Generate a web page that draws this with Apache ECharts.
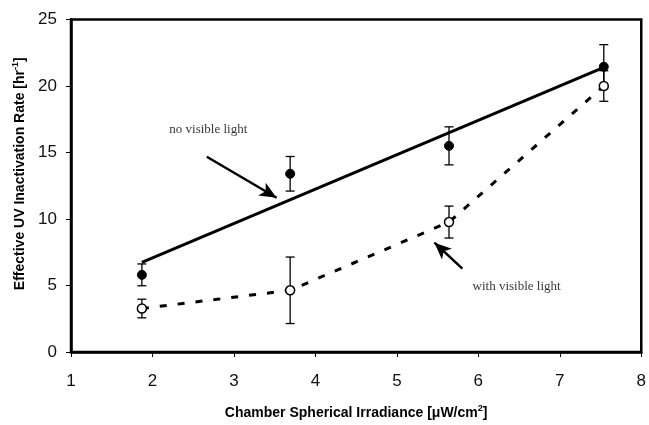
<!DOCTYPE html>
<html>
<head>
<meta charset="utf-8">
<script src="https://cdn.jsdelivr.net/npm/echarts@6/dist/echarts.min.js"></script>
<style>
  html, body { margin: 0; padding: 0; background: #fff; }
  #main { width: 649px; height: 425px; }
</style>
</head>
<body>
<div id="main"></div>
<script>
// irradiance (x) for the four chamber settings
var irradiance = [1.87, 3.69, 5.64, 7.54];
// no visible light: rate and error (+/-)
var darkRate = [5.8, 13.4, 15.5, 21.45];
var darkErr = [0.82, 1.3, 1.43, 1.66];
// with visible light: rate and error (+/-)
var lightRate = [3.27, 4.64, 9.77, 20.0];
var lightErr = [0.7, 2.5, 1.2, 1.15];
// linear fit for the dark data
var fitX = [1.87, 7.54];
var fitY = [6.74, 21.4];
// tick labels
var xTicks = [1, 2, 3, 4, 5, 6, 7, 8];
var yTicks = [0, 5, 10, 15, 20, 25];
// annotations (data coords)
var noteText = ['no visible light', 'with visible light'];
var notePos = [[2.685, 16.75], [6.47, 4.95]];
var arrowFrom = [[2.667, 14.68], [5.804, 6.27]];
var arrowTo = [[3.524, 11.6], [5.461, 8.22]];

function pairs(xs, ys) {
  return xs.map(function (x, i) { return [x, ys[i]]; });
}

function errData(xs, ys, es) {
  return xs.map(function (x, i) { return [x, ys[i] - es[i], ys[i] + es[i]]; });
}

function errorBars(api) {
  var lo = api.coord([api.value(0), api.value(1)]);
  var hi = api.coord([api.value(0), api.value(2)]);
  var w = 4.5;
  var st = { stroke: '#000', lineWidth: 1.3 };
  return {
    type: 'group',
    children: [
      { type: 'line', shape: { x1: lo[0], y1: lo[1], x2: hi[0], y2: hi[1] }, style: st },
      { type: 'line', shape: { x1: lo[0] - w, y1: lo[1], x2: lo[0] + w, y2: lo[1] }, style: st },
      { type: 'line', shape: { x1: hi[0] - w, y1: hi[1], x2: hi[0] + w, y2: hi[1] }, style: st }
    ]
  };
}

var titleRich = {
  n: { fontSize: 14, fontWeight: 'bold', fontFamily: 'Liberation Sans, Arial', color: '#000', lineHeight: 18 },
  sup: { fontSize: 9, fontWeight: 'bold', fontFamily: 'Liberation Sans, Arial', color: '#000', verticalAlign: 'top', lineHeight: 12 }
};

var chart = echarts.init(document.getElementById('main'));

var arrows = arrowFrom.map(function (p, i) {
  return [{ coord: p }, { coord: arrowTo[i] }];
});

var option = {
  animation: false,
  backgroundColor: '#fff',
  grid: {
    left: 71, right: 7, top: 19.5, bottom: 72.5,
    show: true, borderColor: '#000', borderWidth: 2.5
  },
  xAxis: {
    type: 'value', min: xTicks[0], max: xTicks[xTicks.length - 1], interval: 1,
    axisLine: { show: true, lineStyle: { color: '#000', width: 2.5 } },
    axisTick: { show: true, length: 5, lineStyle: { color: '#000', width: 1 } },
    splitLine: { show: false },
    axisLabel: { margin: 21, color: '#111', fontSize: 17, fontFamily: 'Liberation Sans, Arial' },
    name: '{n|Chamber Spherical Irradiance [μW/cm}{sup|2}{n|]}',
    nameLocation: 'middle', nameGap: 52,
    nameTextStyle: { rich: titleRich }
  },
  yAxis: {
    type: 'value', min: yTicks[0], max: yTicks[yTicks.length - 1], interval: 5,
    axisLine: { show: true, lineStyle: { color: '#000', width: 2.5 } },
    axisTick: { show: true, length: 5, lineStyle: { color: '#000', width: 1 } },
    splitLine: { show: false },
    axisLabel: { margin: 14, color: '#111', fontSize: 17, fontFamily: 'Liberation Sans, Arial' },
    name: '{n|Effective UV Inactivation Rate [hr}{sup|-1}{n|]}',
    nameLocation: 'middle', nameGap: 38, nameRotate: 90,
    nameTextStyle: { rich: titleRich, padding: [0, 0, 0, 24] }
  },
  series: [
    {
      name: 'fit', type: 'line', data: pairs(fitX, fitY), symbol: 'none',
      lineStyle: { color: '#000', width: 3 }, z: 2,
      markLine: {
        silent: true, symbol: ['none', 'arrow'], symbolSize: [11, 17],
        lineStyle: { color: '#000', width: 2.5, type: 'solid' },
        label: { show: false },
        data: arrows
      }
    },
    {
      name: 'with visible light', type: 'line', data: pairs(irradiance, lightRate), symbol: 'none',
      lineStyle: { color: '#000', width: 3, type: [7, 11] }, z: 2
    },
    {
      name: 'darkErr', type: 'custom', renderItem: function (p, api) { return errorBars(api); },
      data: errData(irradiance, darkRate, darkErr), encode: { x: 0, y: [1, 2] }, z: 3
    },
    {
      name: 'lightErr', type: 'custom', renderItem: function (p, api) { return errorBars(api); },
      data: errData(irradiance, lightRate, lightErr), encode: { x: 0, y: [1, 2] }, z: 3
    },
    {
      name: 'no visible light pts', type: 'scatter', data: pairs(irradiance, darkRate),
      symbol: 'circle', symbolSize: 9, itemStyle: { color: '#000', borderColor: '#000', opacity: 1 }, z: 4
    },
    {
      name: 'with visible light pts', type: 'scatter', data: pairs(irradiance, lightRate),
      symbol: 'circle', symbolSize: 9, itemStyle: { color: '#fff', borderColor: '#000', borderWidth: 1.5, opacity: 1 }, z: 4
    },
    {
      name: 'notes', type: 'scatter', symbolSize: 0, silent: true,
      data: notePos.map(function (p, i) { return { value: p, name: noteText[i] }; }),
      label: {
        show: true, position: 'inside', formatter: '{b}',
        fontFamily: 'Liberation Serif, Times New Roman', fontSize: 13, color: '#000'
      }, z: 5
    }
  ]
};

chart.setOption(option);
</script>
</body>
</html>
